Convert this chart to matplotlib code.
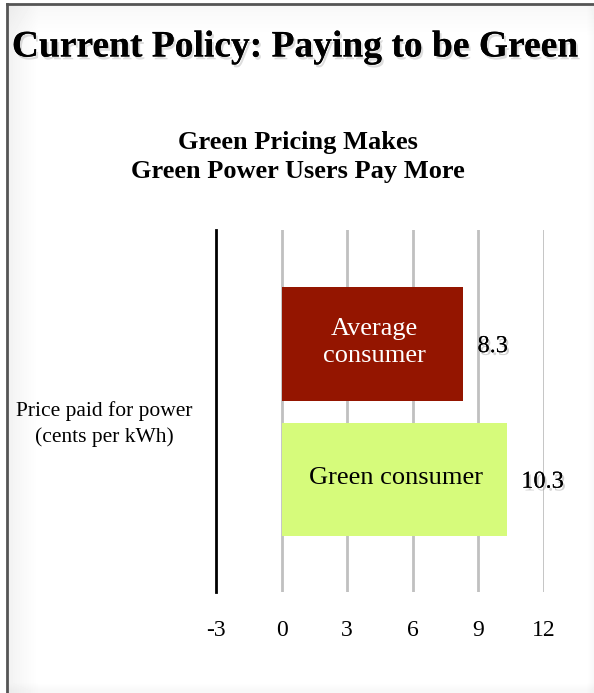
import numpy as np
import matplotlib.pyplot as plt
import matplotlib.patheffects as pe
from matplotlib.patches import Rectangle

# data
categories = ['Average\nconsumer', 'Green consumer']
prices = [8.3, 10.3]
bar_colors = ['#941500', '#d6fb7b']
label_colors = ['white', 'black']
xticks = [-3, 0, 3, 6, 9, 12]

plt.rcParams['font.family'] = ['Liberation Serif', 'DejaVu Serif']

W, H = 594, 693
fig = plt.figure(figsize=(W / 100, H / 100), dpi=100)

# slide-like background with soft shading at the edges
bg = fig.add_axes([0, 0, 1, 1])
bg.set_xlim(0, W)
bg.set_ylim(H, 0)
bg.axis('off')
xx = np.arange(W)
yy = np.arange(H)
shade = np.ones((H, W))
shade -= 0.05 * np.clip(1 - (xx[None, :] - 8) / 30, 0, 1)
shade -= 0.03 * np.clip(1 - (yy[:, None] - 5) / 30, 0, 1)
shade -= 0.03 * np.clip((yy[:, None] - 682) / 8, 0, 1)
shade -= 0.03 * np.clip((xx[None, :] - 586) / 8, 0, 1)
bg.imshow(shade, cmap='gray', vmin=0, vmax=1, extent=(0, W, H, 0), aspect='auto')
bg.add_patch(Rectangle((0, 0), 7, H, color='white', zorder=2))
bg.add_patch(Rectangle((0, 0), W, 4, color='white', zorder=2))
bg.plot([7, 7], [4, H], color='#555555', lw=2, zorder=3)
bg.plot([7, W], [4, 4], color='#555555', lw=2, zorder=3)

shadow = [pe.withSimplePatchShadow(offset=(1.5, -2), shadow_rgbFace='#aaaaaa', alpha=0.4),
          pe.Normal()]
fig.text(295 / W, 1 - 47 / H, 'Current Policy: Paying to be Green', ha='center', va='center',
         fontsize=27, fontweight='bold', path_effects=shadow)
fig.text(298 / W, 1 - 157 / H, 'Green Pricing Makes\nGreen Power Users Pay More', ha='center',
         va='center', fontsize=19, fontweight='bold', linespacing=1.3)
fig.text(104 / W, 1 - 424 / H, 'Price paid for power\n(cents per kWh)', ha='center', va='center',
         fontsize=15.5, linespacing=1.4)

# axes: x from -3 (px 216) to 12 (px 544), y from px 230 to 592
ax = fig.add_axes([216 / W, 1 - 592 / H, (544 - 216) / W, (592 - 230) / H])
ax.patch.set_alpha(0)
ypos = np.arange(len(prices))
ax.barh(ypos, prices, height=0.84, color=bar_colors, zorder=2)
ax.set_xlim(-3, 12)
ax.set_ylim(1.83, -0.84)
ax.set_xticks(xticks)
ax.set_xticklabels([str(t) for t in xticks], fontsize=17)
ax.set_yticks([])
ax.tick_params(axis='x', length=0, pad=20)
for t in xticks[1:]:
    ax.axvline(t, color='#c0c0c0', lw=2, zorder=1)
for s in ['top', 'right', 'bottom']:
    ax.spines[s].set_visible(False)
ax.spines['left'].set_linewidth(2)
ax.spines['left'].set_color('black')

val_shadow = [pe.withSimplePatchShadow(offset=(1.5, -2), shadow_rgbFace='#999999', alpha=0.45),
              pe.Normal()]
for y, v, name, tc in zip(ypos, prices, categories, label_colors):
    ax.text(v / 2 + 0.1, y - 0.01, name, ha='center', va='center', color=tc, fontsize=19,
            linespacing=1.3, zorder=3)
    ax.text(v + 0.66, y + 0.02, f'{v}', ha='left', va='center', fontsize=17.5,
            path_effects=val_shadow, zorder=3)

fig.savefig('out.png', dpi=100)
